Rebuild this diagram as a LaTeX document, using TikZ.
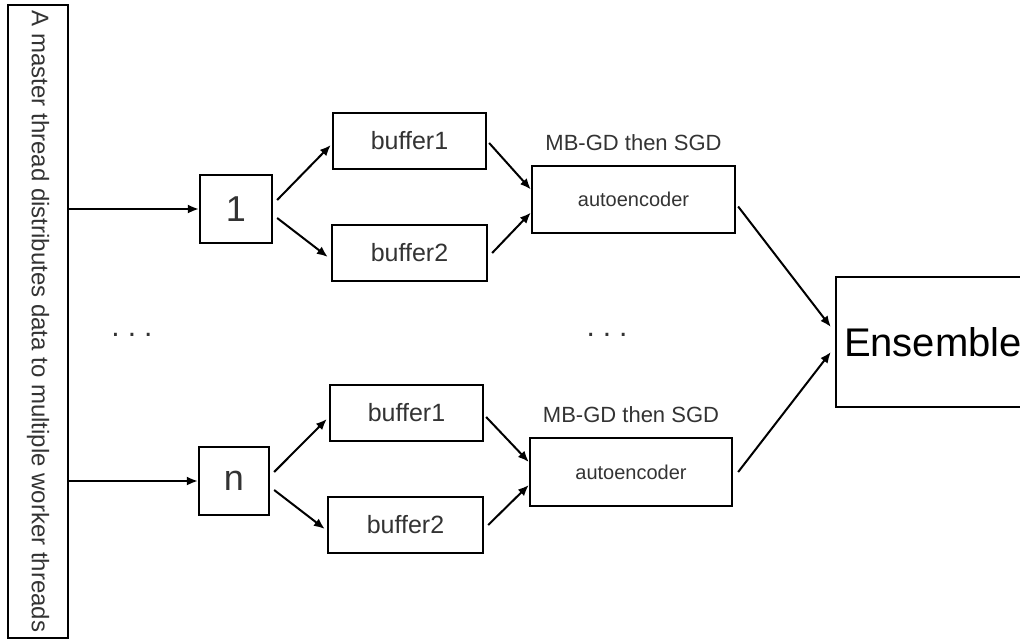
\documentclass[tikz,border=0pt]{standalone}
\usepackage{fontspec}
\setmainfont{Liberation Sans}
\usetikzlibrary{arrows.meta}
\begin{document}
\begin{tikzpicture}[x=1pt,y=-1pt,
  box/.style={draw, line width=2.3pt, inner sep=0pt, text=black!80},
  arr/.style={line width=2pt, -{Latex[length=11pt,width=9pt]}},
  lbl/.style={text=black!80, inner sep=0pt}]
\useasboundingbox (0,0) rectangle (1020,641);
% master thread box
\node[box, rotate=-90, minimum width=633pt, minimum height=60pt,
      font=\fontsize{24}{28}\selectfont] (master) at (38,321.5)
      {A master thread distributes data to multiple worker threads};
% thread boxes
\node[box, minimum width=72pt, minimum height=68pt, font=\fontsize{36}{40}\selectfont] (one) at (236,209) {1};
\node[box, minimum width=70pt, minimum height=68pt, font=\fontsize{36}{40}\selectfont] (n) at (234,481) {n};
% buffers top
\node[box, minimum width=153pt, minimum height=56pt, font=\fontsize{25}{28}\selectfont] (b1a) at (409.5,141) {buffer1};
\node[box, minimum width=155pt, minimum height=56pt, font=\fontsize{25}{28}\selectfont] (b2a) at (409.5,253) {buffer2};
% buffers bottom
\node[box, minimum width=153pt, minimum height=56pt, font=\fontsize{25}{28}\selectfont] (b1b) at (406.5,413) {buffer1};
\node[box, minimum width=155pt, minimum height=56pt, font=\fontsize{25}{28}\selectfont] (b2b) at (405.5,525) {buffer2};
% autoencoders
\node[box, minimum width=203pt, minimum height=67pt, font=\fontsize{20}{24}\selectfont] (aea) at (633.5,199.5) {autoencoder};
\node[box, minimum width=202pt, minimum height=68pt, font=\fontsize{20}{24}\selectfont] (aeb) at (631,472) {autoencoder};
\node[lbl, font=\fontsize{22}{26}\selectfont, anchor=south] (la) at ([yshift=14pt]aea.north) {MB-GD then SGD};
\node[lbl, font=\fontsize{22}{26}\selectfont, anchor=south] (lb) at ([yshift=14pt]aeb.north) {MB-GD then SGD};
% ensemble
\node[box, minimum width=194pt, minimum height=130pt, font=\fontsize{40}{44}\selectfont, text=black] (ens) at (933,342) {Ensemble};
% dots
\node[lbl, font=\fontsize{30}{32}\selectfont] (d1) at (132,335) {.\hspace{8pt}.\hspace{8pt}.};
\node[lbl, font=\fontsize{30}{32}\selectfont] (d2) at (607,335) {.\hspace{8pt}.\hspace{8pt}.};
% connectors
\draw[arr] (master.north |- one.west) -- (one.west);
\draw[arr] (master.north |- n.west) -- (n.west);
\draw[arr] ([xshift=4pt,yshift=9pt]one.east) -- ([xshift=-1pt,yshift=-4pt]b1a.west);
\draw[arr] ([xshift=4pt,yshift=-9pt]one.east) -- ([xshift=-3pt,yshift=-4pt]b2a.west);
\draw[arr] ([xshift=2pt,yshift=-2pt]b1a.east) -- ([yshift=10pt]aea.west);
\draw[arr] ([xshift=4pt]b2a.east) -- ([yshift=-13pt]aea.west);
\draw[arr] ([xshift=4pt,yshift=9pt]n.east) -- ([xshift=-2pt,yshift=-6pt]b1b.west);
\draw[arr] ([xshift=4pt,yshift=-9pt]n.east) -- ([xshift=-2pt,yshift=-4pt]b2b.west);
\draw[arr] ([xshift=2pt,yshift=-4pt]b1b.east) -- ([yshift=10pt]aeb.west);
\draw[arr] ([xshift=4pt]b2b.east) -- ([yshift=-13pt]aeb.west);
\draw[arr] ([xshift=2pt,yshift=-7pt]aea.east) -- ([xshift=-4pt,yshift=15pt]ens.west);
\draw[arr] ([xshift=5pt]aeb.east) -- ([xshift=-4pt,yshift=-10pt]ens.west);
\end{tikzpicture}
\end{document}
